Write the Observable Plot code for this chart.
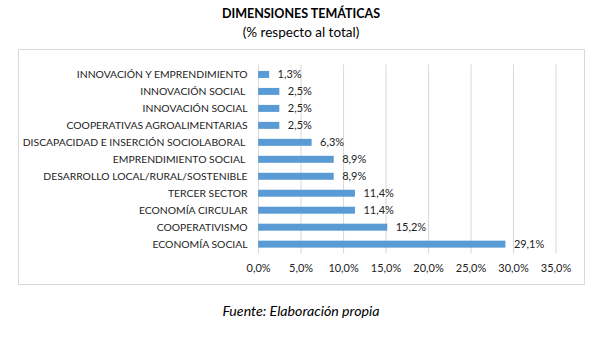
<!DOCTYPE html>
<html>
<head>
<meta charset="utf-8">
<script src="https://cdn.jsdelivr.net/npm/d3@7"></script>
<script src="https://cdn.jsdelivr.net/npm/@observablehq/plot@0.6"></script>
<style>
  html, body { margin: 0; padding: 0; background: #fff; }
  #page { position: relative; width: 598px; height: 339px; overflow: hidden; font-family: Lato, "Open Sans", sans-serif; color: #000; }
  .t { position: absolute; left: 0; width: 602px; text-align: center; white-space: nowrap; }
  #title { top: 6px; font-size: 12.5px; font-weight: bold; }
  #subtitle { top: 24px; font-size: 13.5px; }
  #caption { top: 302px; font-size: 14.2px; font-style: italic; }
  #frame { position: absolute; left: 18px; top: 49px; width: 565px; height: 234px; border: 1px solid #d9d9d9; }
  #frame svg { position: absolute; left: 0; top: 0; }
</style>
</head>
<body>
<div id="page">
  <div id="title" class="t">DIMENSIONES TEMÁTICAS</div>
  <div id="subtitle" class="t">(% respecto al total)</div>
  <div id="frame"></div>
  <div id="caption" class="t">Fuente: Elaboración propia</div>
</div>
<script>
const categories = [
  "INNOVACIÓN Y EMPRENDIMIENTO",
  "INNOVACIÓN SOCIAL\u00a0",
  "INNOVACIÓN SOCIAL",
  "COOPERATIVAS AGROALIMENTARIAS",
  "DISCAPACIDAD E INSERCIÓN SOCIOLABORAL\u00a0",
  "EMPRENDIMIENTO SOCIAL\u00a0",
  "DESARROLLO LOCAL/RURAL/SOSTENIBLE",
  "TERCER SECTOR",
  "ECONOMÍA CIRCULAR",
  "COOPERATIVISMO",
  "ECONOMÍA SOCIAL"
];
const values = [1.3, 2.5, 2.5, 2.5, 6.3, 8.9, 8.9, 11.4, 11.4, 15.2, 29.1];
const xTicks = [0, 5, 10, 15, 20, 25, 30, 35];

const data = categories.map((c, i) => ({cat: c, v: values[i]}));
const fmt = v => v.toFixed(1).replace(".", ",") + "%";

const chart = Plot.plot({
  width: 566,
  height: 235,
  marginLeft: 239.5,
  marginRight: 28.5,
  marginTop: 14.5,
  marginBottom: 31,
  style: {fontFamily: "Lato, 'Open Sans', sans-serif", color: "#222", background: "transparent"},
  x: {domain: [0, 35], label: null},
  y: {domain: categories, paddingInner: 0.6, paddingOuter: 0.3, label: null},
  marks: [
    Plot.gridX(xTicks, {stroke: "#d9d9d9", strokeOpacity: 1}),
    Plot.barX(data, {x: "v", y: "cat", fill: "#5B9BD5"}),
    Plot.text(data, {x: "v", y: "cat", text: d => fmt(d.v), textAnchor: "start", dx: 8, fontSize: 11, fill: "#222"}),
    Plot.axisX({ticks: xTicks, tickFormat: fmt, tickSize: 0, tickPadding: 10, fontSize: 11, label: null}),
    Plot.axisY({tickSize: 0, tickPadding: 11, fontSize: 10.4, label: null})
  ]
});
document.getElementById("frame").appendChild(chart);
</script>
</body>
</html>
